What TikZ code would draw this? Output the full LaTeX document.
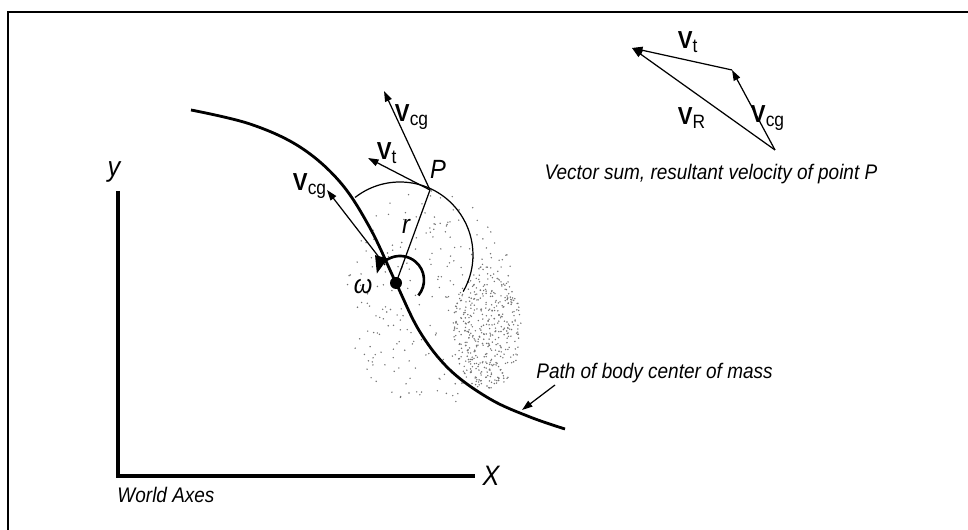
\documentclass[tikz,border=0pt]{standalone}
\usepackage{fontspec}
\setmainfont{Liberation Sans}[FakeStretch=0.9]
\usetikzlibrary{arrows.meta}

\newcommand{\vel}[1]{\textup{\textbf{V}}\textsubscript{\fontsize{11}{12}\selectfont#1}}

\begin{document}
\begin{tikzpicture}[x=0.02cm,y=0.02cm,line width=0.7,
    vec/.style={-{Triangle[length=6pt,width=4pt]}},
    lbl/.style={font=\itshape\fontsize{12}{14}\selectfont,inner sep=1pt},
    biglbl/.style={font=\itshape\fontsize{16}{18}\selectfont,inner sep=1pt},
    vlbl/.style={font=\fontsize{14}{16}\selectfont,inner sep=1pt},
    speck/.style={fill=black!55}]
	\useasboundingbox (0,0) rectangle (968,530);
	% frame
	\draw[line width=1.2] (8,0)--(8,518)--(968,518);
	% stippled body
	\pgfmathsetseed{42}
	\foreach \i in {1,...,260}{
		\pgfmathsetmacro{\pa}{360*rnd}
		\pgfmathsetmacro{\pr}{sqrt(rnd)}
		\fill[speck] ({430+85*\pr*cos(\pa)},{230+110*\pr*sin(\pa)}) circle (0.8);
	}
	\foreach \i in {1,...,380}{
		\pgfmathsetmacro{\pa}{360*rnd}
		\pgfmathsetmacro{\pr}{sqrt(rnd)}
		\fill[speck] ({487+34*\pr*cos(\pa)},{201+62*\pr*sin(\pa)}) circle (0.8);
	}
	% world axes
	\coordinate (O) at (118,54);
	\coordinate (ytop) at (118,339);
	\coordinate (xend) at (475,54);
	\draw[line width=1.8] (ytop)--(O)--(xend);
	\node[biglbl] (ylbl) at (114,358) {y};
	\node[biglbl] (xlbl) at (491,54) {X};
	\node[lbl] (world) at (166,35) {World Axes};
	% path of center of mass
	\draw[line width=1.6] plot[smooth,tension=0.6] coordinates {(191,420) (250,406) (300,383) (340,348) (370,302) (396,247) (420,198) (450,160) (490,131) (530,113) (565,101)};
	\node[lbl,anchor=west] (pathlbl) at (534,157) {Path of body center of mass};
	\coordinate (ptail) at (555,145);
	\coordinate (phead) at (522,120);
	\draw[vec] (ptail)--(phead);
	% body
	\coordinate (C) at (396,247);
	\coordinate (P) at (430,340);
	\fill (C) circle (6);
	\draw (400,275) ++(128:73) arc[start angle=128,end angle=-30,radius=73];
	\draw (C)--(P);
	\node[font=\itshape\fontsize{15}{17}\selectfont] (rlbl) at (406,304) {r};
	\node[font=\itshape\fontsize{15}{17}\selectfont] (Plbl) at (438,361) {P};
	\draw[line width=1.5,-{Triangle[length=10pt,width=7pt]}] (400,250) ++(-40:24) arc[start angle=-40,end angle=165,radius=24];
	\node[font=\itshape\fontsize{15}{17}\selectfont] (wlbl) at (363,243) {ω};
	% velocities at P and at the center
	\coordinate (vcgP) at (384,439);
	\coordinate (vtP) at (368,372);
	\coordinate (cgbase) at (385,265);
	\coordinate (vcgC) at (327,340);
	\draw[vec] (P)--(vcgP);
	\draw[vec] (P)--(vtP);
	\draw[vec] (cgbase)--(vcgC);
	\node[vlbl] (vcgPlbl) at (412,413) {\vel{cg}};
	\node[vlbl] (vtPlbl) at (387,377) {\vel{t}};
	\node[vlbl] (vcgClbl) at (310,344) {\vel{cg}};
	% vector sum
	\coordinate (Q) at (775,380);
	\coordinate (B) at (732,460);
	\coordinate (A) at (632,482);
	\draw[vec] (Q)--(B);
	\draw[vec] (B)--(A);
	\draw[vec] (Q)--(A);
	\node[vlbl] (vtlbl) at (688,488) {\vel{t}};
	\node[vlbl] (vRlbl) at (692,412) {\vel{R}};
	\node[vlbl] (vcglbl) at (768,412) {\vel{cg}};
	\node[lbl] (sumlbl) at (711,356) {Vector sum, resultant velocity of point P};
\end{tikzpicture}
\end{document}
